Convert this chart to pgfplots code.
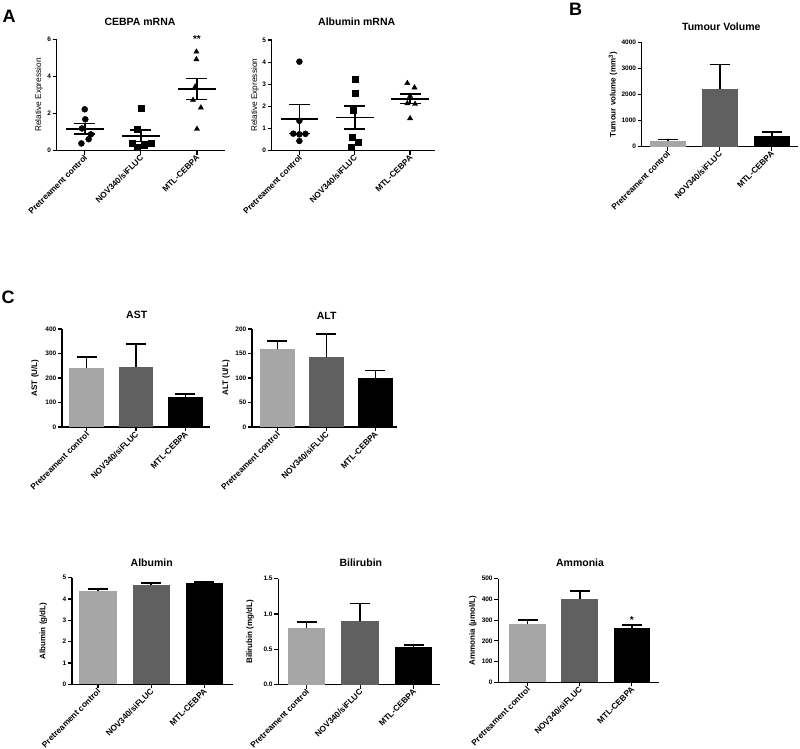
\documentclass[border=0pt]{standalone}
\usepackage{fontspec}
\setmainfont{Liberation Sans}
\usepackage{pgfplots}
\pgfplotsset{compat=1.18}
\definecolor{gA}{RGB}{166,166,166}
\definecolor{gB}{RGB}{96,96,96}
\pgfplotsset{
  base/.style={scale only axis, anchor=south west, clip=false,
    axis x line*=bottom, axis y line*=left,
    axis line style={line width=1.3pt,-},
    tick align=outside, major tick length=4pt,
    every tick/.style={black, line width=1.2pt},
    xtick={0,1,2},
    xticklabels={Pretreament control, NOV340/siFLUC, MTL-CEBPA},
    xticklabel style={rotate=45, anchor=east, font=\bfseries\fontsize{8.3}{9}\selectfont, inner sep=1.5pt, yshift=-2pt, xshift=1pt},
    yticklabel style={font=\bfseries\fontsize{6.5}{7}\selectfont, inner sep=1.5pt},
    /pgf/number format/assume math mode=true,
    /pgf/number format/1000 sep={},
    ymin=0},
  barbase/.style={ybar, bar width=0.7, bar shift=0pt, draw=none, fill=#1,
    error bars/.cd, y dir=plus, y explicit,
    error bar style={line width=1.6pt, black},
    error mark options={rotate=90, line width=1.6pt, mark size=10pt, black}},
  meanbar/.style={only marks, mark=-, mark size=#1, mark options={line width=1.8pt, black},
    error bars/.cd, y dir=both, y explicit,
    error bar style={line width=1.6pt, black},
    error mark options={rotate=90, line width=1.6pt, mark size=10.5pt, black}},
  pts/.style={only marks, mark=#1, black, mark size=3pt, mark options={fill=black}},
}
\begin{document}
\begin{tikzpicture}
\useasboundingbox (0,0) rectangle (800pt,749pt);
% ---------------- A: CEBPA mRNA
\begin{axis}[base, at={(56.7pt,598.3pt)}, width=168.3pt, height=111.4pt,
  xmin=-0.5, xmax=2.5, ymax=6, ytick={0,2,4,6}]
\addplot[pts=*] coordinates {(0,2.23) (0.01,1.69) (-0.05,1.2) (0.11,0.88) (0.07,0.62) (-0.06,0.39)};
\addplot[pts=square*] coordinates {(1,2.28) (0.94,1.15) (0.85,0.43) (1.18,0.43) (1.06,0.27) (0.94,0.18)};
\addplot[pts=triangle*] coordinates {(1.99,5.33) (1.99,4.92) (1.97,3.45) (1.93,2.73) (2.07,2.32) (2,1.17)};
\addplot[meanbar=19pt] coordinates {(0,1.18) +- (0,0.29) (1,0.81) +- (0,0.31) (2,3.32) +- (0,0.56)};
\node[font=\bfseries\fontsize{10}{10}\selectfont] at (axis cs:2,6.0) {**};
\end{axis}
% ---------------- A: Albumin mRNA
\begin{axis}[base, at={(271.7pt,598.3pt)}, width=163.3pt, height=110.7pt,
  xmin=-0.5, xmax=2.45, ymax=5, ytick={0,1,2,3,4,5}]
\addplot[pts=*] coordinates {(0,4.02) (0,1.35) (-0.11,0.77) (0.11,0.76) (0.0,0.74) (0,0.44)};
\addplot[pts=square*] coordinates {(1,3.22) (1,2.59) (0.98,1.84) (0.96,0.63) (1.07,0.38) (0.93,0.18)};
\addplot[pts=triangle*] coordinates {(1.95,3.05) (2.08,2.85) (2,2.47) (1.95,2.14) (2.09,2.11) (2,1.46)};
\addplot[meanbar=18.8pt] coordinates {(0,1.43) +- (0,0.66) (1,1.5) +- (0,0.52) (2,2.35) +- (0,0.22)};
\end{axis}
% ---------------- B: Tumour volume
\begin{axis}[base, at={(641.7pt,602.3pt)}, width=156pt, height=104pt,
  xmin=-0.5, xmax=2.5, ymax=4000, ytick={0,1000,2000,3000,4000}]
\addplot[barbase=gA] coordinates {(0,218) +- (0,64)};
\addplot[barbase=gB] coordinates {(1,2231) +- (0,923)};
\addplot[barbase=black] coordinates {(2,410) +- (0,154)};
\end{axis}
% ---------------- C: AST
\begin{axis}[base, at={(62pt,322pt)}, width=148pt, height=98pt,
  xmin=-0.5, xmax=2.5, ymax=400, ytick={0,100,200,300,400}]
\addplot[barbase=gA] coordinates {(0,241) +- (0,45)};
\addplot[barbase=gB] coordinates {(1,245) +- (0,94)};
\addplot[barbase=black] coordinates {(2,122) +- (0,13)};
\end{axis}
% ---------------- C: ALT
\begin{axis}[base, at={(252pt,322pt)}, width=145pt, height=98pt,
  xmin=-0.52, xmax=2.44, ymax=200, ytick={0,50,100,150,200}]
\addplot[barbase=gA] coordinates {(0,158.6) +- (0,16.5)};
\addplot[barbase=gB] coordinates {(1,143.5) +- (0,46.5)};
\addplot[barbase=black] coordinates {(2,100.6) +- (0,14.4)};
\end{axis}
% ---------------- C: Albumin
\begin{axis}[base, at={(72pt,64.7pt)}, width=161pt, height=106.6pt,
  xmin=-0.49, xmax=2.54, ymax=5, ytick={0,1,2,3,4,5}]
\addplot[barbase=gA] coordinates {(0,4.37) +- (0,0.1)};
\addplot[barbase=gB] coordinates {(1,4.67) +- (0,0.08)};
\addplot[barbase=black] coordinates {(2,4.75) +- (0,0.05)};
\end{axis}
% ---------------- C: Bilirubin
\begin{axis}[base, at={(278.3pt,64.3pt)}, width=162pt, height=106pt,
  xmin=-0.53, xmax=2.5, ymax=1.5, ytick={0,0.5,1,1.5}, yticklabels={0.0,0.5,1.0,1.5}]
\addplot[barbase=gA] coordinates {(0,0.80) +- (0,0.085)};
\addplot[barbase=gB] coordinates {(1,0.905) +- (0,0.245)};
\addplot[barbase=black] coordinates {(2,0.53) +- (0,0.03)};
\end{axis}
% ---------------- C: Ammonia
\begin{axis}[base, at={(498.3pt,66.7pt)}, width=160.7pt, height=103.6pt,
  xmin=-0.56, xmax=2.52, ymax=500, ytick={0,100,200,300,400,500}]
\addplot[barbase=gA] coordinates {(0,281) +- (0,19)};
\addplot[barbase=gB] coordinates {(1,402) +- (0,39)};
\addplot[barbase=black] coordinates {(2,263) +- (0,14)};
\node[font=\bfseries\fontsize{10}{10}\selectfont] at (axis cs:2,300) {*};
\end{axis}
% ---------------- titles
\begin{scope}[every node/.style={font=\bfseries\fontsize{10.5}{12}\selectfont}]
\node at (140pt,727.3pt) {CEBPA mRNA};
\node at (356.7pt,727.3pt) {Albumin mRNA};
\node at (721.3pt,722.3pt) {Tumour Volume};
\node at (136.7pt,434pt) {AST};
\node at (326.7pt,433.3pt) {ALT};
\node at (151.7pt,186.3pt) {Albumin};
\node at (360.8pt,186.3pt) {Bilirubin};
\node at (580pt,186.3pt) {Ammonia};
\end{scope}
% ---------------- y labels
\node[rotate=90, font=\fontsize{8.3}{9}\selectfont] at (39pt,654pt) {Relative Expression};
\node[rotate=90, font=\fontsize{8.3}{9}\selectfont] at (255pt,653.7pt) {Relative Expression};
\begin{scope}[every node/.style={rotate=90, font=\bfseries\fontsize{8}{9}\selectfont}]
\node at (613pt,654.3pt) {Tumour volume (mm\textsuperscript{3})};
\node at (35pt,371pt) {AST (U/L)};
\node at (226pt,371pt) {ALT (U/L)};
\node at (43.3pt,118pt) {Albumin (g/dL)};
\node at (250pt,117.3pt) {Bilirubin (mg/dL)};
\node at (472.7pt,118.5pt) {Ammonia (µmol/L)};
\end{scope}
% ---------------- panel letters
\begin{scope}[every node/.style={font=\bfseries\fontsize{18}{20}\selectfont}]
\node at (9pt,732.5pt) {A};
\node at (575.5pt,739.5pt) {B};
\node at (8pt,452pt) {C};
\end{scope}
\end{tikzpicture}
\end{document}
